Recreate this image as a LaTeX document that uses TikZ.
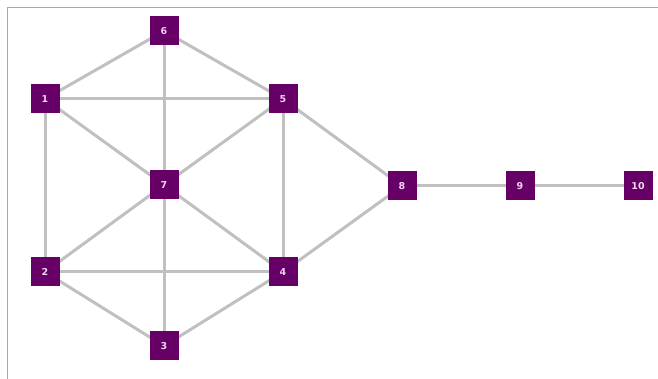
\documentclass[tikz,border=0pt]{standalone}
\usepackage{fontspec}
\setmainfont{DejaVu Sans}
\usetikzlibrary{backgrounds}
\definecolor{nodefill}{HTML}{660066}
\definecolor{edgegray}{HTML}{C0C0C0}
\definecolor{framegray}{HTML}{A8A8A8}
\definecolor{labelpink}{HTML}{F4D4F4}
\tikzset{
  vbox/.style={fill=nodefill, draw=none, minimum width=29pt, minimum height=29pt, inner sep=0pt,
    text=labelpink, font=\fontsize{9.5}{10}\selectfont\bfseries},
  edge/.style={draw=edgegray, line width=3pt}
}
\begin{document}
\begin{tikzpicture}[x=1pt,y=1pt]
\useasboundingbox (0,0) rectangle (658,379);
\node[vbox] (n6) at (164,348) {6};
\node[vbox] (n1) at (45,280) {1};
\node[vbox] (n5) at (283,280) {5};
\node[vbox] (n7) at (164,194) {7};
\node[vbox] (n8) at (402,193) {8};
\node[vbox] (n9) at (520,193) {9};
\node[vbox] (n10) at (638,193) {10};
\node[vbox] (n2) at (45,107) {2};
\node[vbox] (n4) at (283,107) {4};
\node[vbox] (n3) at (164,33) {3};
\begin{scope}[on background layer]
\fill[white] (0,0) rectangle (658,379);
\draw[framegray, line width=1.2pt] (7.5,0) -- (7.5,371.5) -- (658,371.5);
\foreach \a/\b in {n6/n1,n6/n5,n6/n7,n1/n5,n1/n7,n1/n2,n5/n7,n5/n4,n5/n8,n7/n2,n7/n4,n7/n3,n2/n4,n2/n3,n3/n4,n4/n8,n8/n9,n9/n10}
  \draw[edge] (\a.center) -- (\b.center);
\end{scope}
\end{tikzpicture}
\end{document}
